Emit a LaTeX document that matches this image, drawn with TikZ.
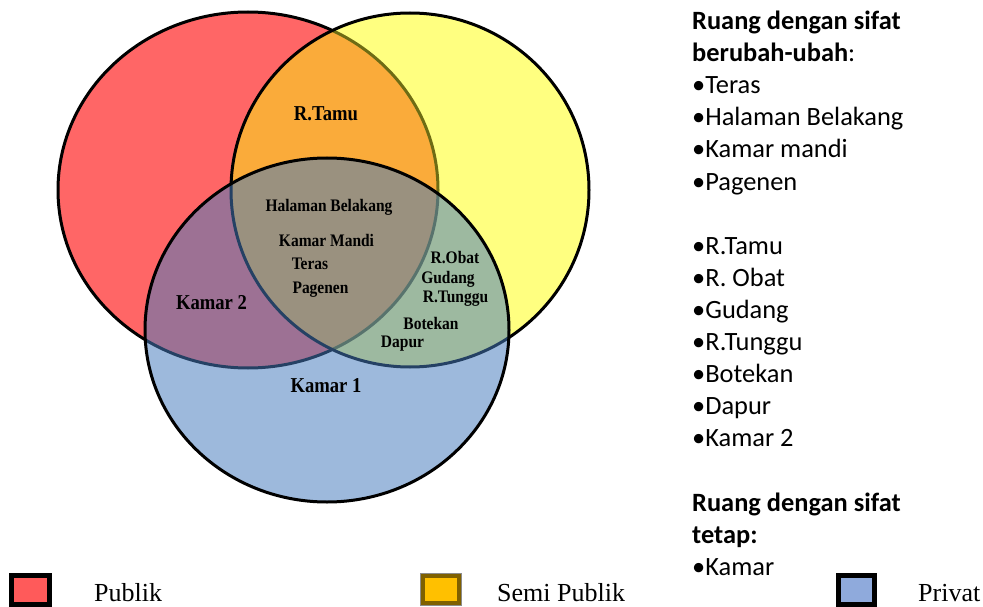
\documentclass[tikz,border=0pt]{standalone}
\usepackage{fontspec}
\newfontfamily\calib{Carlito}
\newfontfamily\tms{Liberation Serif}
\newfontfamily\vennf[FakeStretch=0.88]{Liberation Serif}
\definecolor{redfill}{HTML}{FF6666}
\definecolor{yelfill}{HTML}{FFFF80}
\definecolor{orafill}{HTML}{FAAB3A}
\definecolor{bluover}{RGB}{70,123,189}
\definecolor{olive2}{HTML}{6E6C14}
\definecolor{pubred}{HTML}{FF5A5A}
\definecolor{semiyel}{HTML}{FFC000}
\definecolor{semibrown}{HTML}{7F6000}
\definecolor{semigray}{HTML}{8C8C8C}
\definecolor{privblue}{HTML}{8FAADC}
\tikzset{
  lab/.style={font=\vennf\bfseries\fontsize{17.6}{20}\selectfont, text=black, inner sep=0pt},
  biglab/.style={font=\vennf\bfseries\fontsize{21.2}{24}\selectfont, text=black, inner sep=0pt},
  side/.style={font=\calib\fontsize{26.4}{32}\selectfont, anchor=base west, inner sep=0pt},
  sidebold/.style={font=\calib\bfseries\fontsize{26.4}{32}\selectfont, anchor=base west, inner sep=0pt},
  legtext/.style={font=\tms\fontsize{26}{30}\selectfont, anchor=base west, inner sep=0pt},
  legbox/.style={minimum width=38pt, minimum height=29pt, inner sep=0pt, outer sep=0pt},
  outl/.style={line width=3pt}
}
\begin{document}
\begin{tikzpicture}[x=1pt,y=-1pt]
\useasboundingbox (0,0) rectangle (983,607);
% red and yellow sets
\fill[redfill] (248,190) ellipse [x radius=190pt, y radius=178pt];
\draw[outl, black] (248,190) ellipse [x radius=190pt, y radius=178pt];
\fill[yelfill] (410,190) ellipse [x radius=179pt, y radius=177pt];
\begin{scope}
  \clip (248,190) ellipse [x radius=190pt, y radius=178pt];
  \fill[orafill] (410,190) ellipse [x radius=179pt, y radius=177pt];
\end{scope}
\begin{scope}
  \clip (410,190) ellipse [x radius=179pt, y radius=177pt];
  \draw[outl, olive2] (248,190) ellipse [x radius=190pt, y radius=178pt];
\end{scope}
\draw[outl, black] (410,190) ellipse [x radius=179pt, y radius=177pt];
% blue set (translucent)
\fill[bluover, fill opacity=0.53] (327,330) ellipse [x radius=182pt, y radius=172pt];
\draw[outl, black] (327,330) ellipse [x radius=182pt, y radius=172pt];
% labels in the diagram
\node[biglab] (rtamu) at (326,114) {R.Tamu};
\node[lab] (halaman) at (329,207) {Halaman Belakang};
\node[lab] (kamarmandi) at (326.5,240) {Kamar Mandi};
\node[lab] (teras) at (310,264) {Teras};
\node[lab] (pagenen) at (320.5,290) {Pagenen};
\node[biglab] (kamar2) at (211.5,303) {Kamar 2};
\node[lab] (robat) at (455,258) {R.Obat};
\node[lab] (gudang) at (448,279) {Gudang};
\node[lab] (rtunggu) at (455.5,299) {R.Tunggu};
\node[lab] (botekan) at (431,323) {Botekan};
\node[lab] (dapur) at (402.5,344) {Dapur};
\node[biglab] (kamar1) at (326,386) {Kamar 1};
% side text
\node[sidebold] (s0) at (692,29.5) {Ruang dengan sifat};
\node[side] (s1) at (692,61.6) {\textbf{berubah-ubah}:};
\node[side] (s2) at (692,93.7) {•Teras};
\node[side] (s3) at (692,125.8) {•Halaman Belakang};
\node[side] (s4) at (692,157.9) {•Kamar mandi};
\node[side] (s5) at (692,190.0) {•Pagenen};
\node[side] (s7) at (692,254.2) {•R.Tamu};
\node[side] (s8) at (692,286.3) {•R. Obat};
\node[side] (s9) at (692,318.4) {•Gudang};
\node[side] (s10) at (692,350.5) {•R.Tunggu};
\node[side] (s11) at (692,382.6) {•Botekan};
\node[side] (s12) at (692,414.7) {•Dapur};
\node[side] (s13) at (692,446.8) {•Kamar 2};
\node[sidebold] (s15) at (692,511.0) {Ruang dengan sifat};
\node[sidebold] (s16) at (692,543.1) {tetap:};
\node[side] (s17) at (692,575.2) {•Kamar};
% legend
\node[legbox, draw=black, line width=5pt, fill=pubred] (pubbox) at (30.5,589.5) {};
\node[legtext] (pubtext) at (94,601.5) {Publik};
\node[legbox, minimum width=36pt, minimum height=27pt, draw=semibrown, line width=3.5pt, fill=semiyel] (semibox) at (441,589.5) {};
\draw[semigray, line width=1.5pt] ([shift={(-2.5,-2.5)}]semibox.north west) rectangle ([shift={(2.5,2.5)}]semibox.south east);
\node[legtext] (semitext) at (497,601.5) {Semi Publik};
\node[legbox, draw=black, line width=5pt, fill=privblue, minimum width=36pt] (privbox) at (856,589.5) {};
\node[legtext] (privtext) at (918,601.5) {Privat};
\end{tikzpicture}
\end{document}
